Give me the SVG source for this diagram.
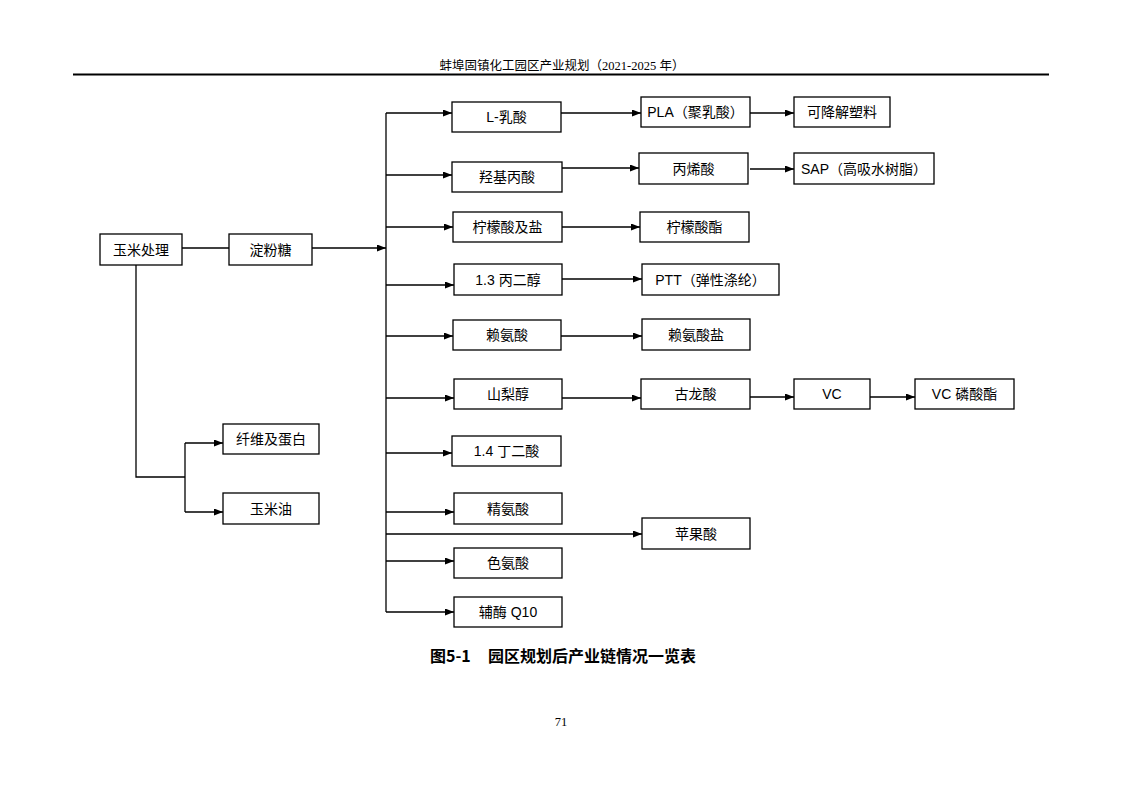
<svg xmlns="http://www.w3.org/2000/svg" width="1122" height="794" viewBox="0 0 1122 794">
<style>
.box{fill:#fff;stroke:#000;stroke-width:1.3}
.lbl{font-family:"Liberation Sans","Noto Sans CJK SC",sans-serif;font-size:14px;fill:#000;text-anchor:middle;dominant-baseline:central}
.c{fill:none;stroke:#000;stroke-width:1.3}
.a{marker-end:url(#ah)}
</style>
<defs>
<marker id="ah" markerUnits="userSpaceOnUse" markerWidth="10" markerHeight="8" refX="9" refY="3.5" orient="auto"><path d="M0,0 L9,3.5 L0,7 z" fill="#000"/></marker>
</defs>
<rect width="1122" height="794" fill="#fff"/>
<text x="562" y="70" style="font-family:'Liberation Serif','Noto Sans CJK SC',serif;font-size:12.5px;text-anchor:middle">蚌埠固镇化工园区产业规划（2021-2025 年）</text>
<line x1="73" y1="74.5" x2="1049" y2="74.5" stroke="#000" stroke-width="2"/>
<g id="connectors">
<path class="c" d="M182,248 H229"/>
<path class="c a" d="M312,248 H386"/>
<path class="c" d="M386,113 V612"/>
<path class="c a" d="M386,113 H452"/>
<path class="c a" d="M386,175 H452"/>
<path class="c a" d="M386,227 H453"/>
<path class="c a" d="M386,285 H454"/>
<path class="c a" d="M386,336 H453"/>
<path class="c a" d="M386,398 H454"/>
<path class="c a" d="M386,453 H452"/>
<path class="c a" d="M386,512 H454"/>
<path class="c a" d="M386,534 H642"/>
<path class="c a" d="M386,561 H454"/>
<path class="c a" d="M386,612 H454"/>
<path class="c a" d="M561,113 H641"/>
<path class="c a" d="M750,113 H794"/>
<path class="c a" d="M562,168 H639"/>
<path class="c a" d="M750,169 H794"/>
<path class="c a" d="M562,227 H640"/>
<path class="c a" d="M562,279 H642"/>
<path class="c a" d="M561,336 H642"/>
<path class="c a" d="M562,398 H641"/>
<path class="c a" d="M750,397 H794"/>
<path class="c a" d="M870,397 H915"/>
<path class="c" d="M136,265 V477 H185"/>
<path class="c" d="M185,443 V512"/>
<path class="c a" d="M185,443 H223"/>
<path class="c a" d="M185,512 H223"/>
</g>
<g id="n-corn"><rect class="box" x="100" y="234" width="82" height="31"/><text class="lbl" x="141" y="249.5">玉米处理</text></g>
<g id="n-starch"><rect class="box" x="229" y="234" width="83" height="31"/><text class="lbl" x="270.5" y="249.5">淀粉糖</text></g>
<g id="n-fiber"><rect class="box" x="223" y="424" width="96" height="30"/><text class="lbl" x="271" y="439">纤维及蛋白</text></g>
<g id="n-oil"><rect class="box" x="223" y="493" width="96" height="31"/><text class="lbl" x="271" y="508.5">玉米油</text></g>
<g id="n-lla"><rect class="box" x="452" y="102" width="109" height="30"/><text class="lbl" x="506.5" y="117">L-乳酸</text></g>
<g id="n-hpa"><rect class="box" x="452" y="162" width="110" height="30"/><text class="lbl" x="507" y="177">羟基丙酸</text></g>
<g id="n-cit"><rect class="box" x="453" y="212" width="109" height="30"/><text class="lbl" x="507.5" y="227">柠檬酸及盐</text></g>
<g id="n-pdo"><rect class="box" x="454" y="264" width="108" height="31"/><text class="lbl" x="508" y="279.5">1.3 丙二醇</text></g>
<g id="n-lys"><rect class="box" x="453" y="320" width="108" height="30"/><text class="lbl" x="507" y="335">赖氨酸</text></g>
<g id="n-sor"><rect class="box" x="454" y="379" width="108" height="30"/><text class="lbl" x="508" y="394">山梨醇</text></g>
<g id="n-suc"><rect class="box" x="452" y="436" width="109" height="30"/><text class="lbl" x="506.5" y="451">1.4 丁二酸</text></g>
<g id="n-arg"><rect class="box" x="454" y="493" width="108" height="31"/><text class="lbl" x="508" y="508.5">精氨酸</text></g>
<g id="n-trp"><rect class="box" x="454" y="548" width="108" height="30"/><text class="lbl" x="508" y="563">色氨酸</text></g>
<g id="n-q10"><rect class="box" x="454" y="597" width="108" height="30"/><text class="lbl" x="508" y="612">辅酶 Q10</text></g>
<g id="n-pla"><rect class="box" x="641" y="97" width="109" height="30"/><text class="lbl" x="695.5" y="112">PLA（聚乳酸）</text></g>
<g id="n-plastic"><rect class="box" x="794" y="97" width="96" height="30"/><text class="lbl" x="842" y="112">可降解塑料</text></g>
<g id="n-acry"><rect class="box" x="639" y="153" width="109" height="31"/><text class="lbl" x="693.5" y="168.5">丙烯酸</text></g>
<g id="n-sap"><rect class="box" x="794" y="153" width="140" height="31"/><text class="lbl" x="864" y="168.5">SAP（高吸水树脂）</text></g>
<g id="n-citester"><rect class="box" x="640" y="212" width="109" height="30"/><text class="lbl" x="694.5" y="227">柠檬酸酯</text></g>
<g id="n-ptt"><rect class="box" x="642" y="264" width="137" height="31"/><text class="lbl" x="710.5" y="279.5">PTT（弹性涤纶）</text></g>
<g id="n-lyssalt"><rect class="box" x="642" y="319" width="108" height="31"/><text class="lbl" x="696" y="334.5">赖氨酸盐</text></g>
<g id="n-gul"><rect class="box" x="641" y="379" width="109" height="30"/><text class="lbl" x="695.5" y="394">古龙酸</text></g>
<g id="n-vc"><rect class="box" x="794" y="379" width="76" height="30"/><text class="lbl" x="832" y="394">VC</text></g>
<g id="n-vcp"><rect class="box" x="915" y="379" width="99" height="30"/><text class="lbl" x="964.5" y="394">VC 磷酸酯</text></g>
<g id="n-mal"><rect class="box" x="642" y="518" width="108" height="31"/><text class="lbl" x="696" y="533.5">苹果酸</text></g>
<text x="430" y="662" style="font-family:'Noto Sans CJK SC',sans-serif;font-size:16px;font-weight:bold">图5-1</text>
<text x="488" y="662" style="font-family:'Noto Sans CJK SC',sans-serif;font-size:16px;font-weight:bold">园区规划后产业链情况一览表</text>
<text x="561" y="726" style="font-family:'Liberation Serif',serif;font-size:12.5px;text-anchor:middle">71</text>
</svg>
